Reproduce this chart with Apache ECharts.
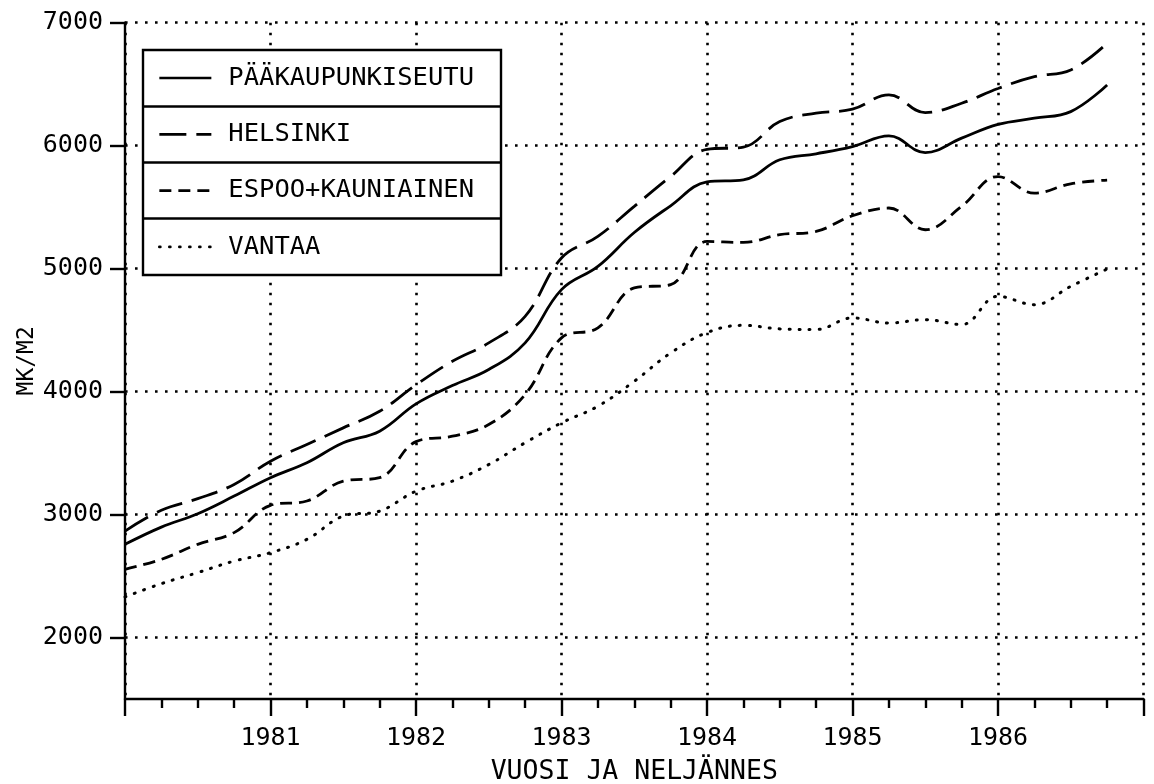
<!DOCTYPE html>
<html><head><meta charset="utf-8">
<script src="https://cdn.jsdelivr.net/npm/echarts@6/dist/echarts.min.js"></script>
<style>html,body{margin:0;padding:0;background:#fff}#c{width:1154px;height:784px}</style>
</head><body><div id="c"></div>
<script>
const quarters = ['1980Q1','1980Q2','1980Q3','1980Q4','1981Q1','1981Q2','1981Q3','1981Q4',
  '1982Q1','1982Q2','1982Q3','1982Q4','1983Q1','1983Q2','1983Q3','1983Q4',
  '1984Q1','1984Q2','1984Q3','1984Q4','1985Q1','1985Q2','1985Q3','1985Q4',
  '1986Q1','1986Q2','1986Q3','1986Q4'];
const seriesNames = ['PÄÄKAUPUNKISEUTU', 'HELSINKI', 'ESPOO+KAUNIAINEN', 'VANTAA'];
const paakaupunkiseutu = [2758, 2898, 3007, 3150, 3300, 3421, 3584, 3678, 3900, 4049, 4179, 4396, 4829, 5018, 5294, 5511, 5705, 5722, 5885, 5934, 5993, 6080, 5944, 6061, 6173, 6223, 6277, 6494];
const helsinki = [2865, 3035, 3129, 3245, 3434, 3570, 3705, 3840, 4055, 4247, 4396, 4612, 5086, 5262, 5506, 5749, 5970, 5988, 6196, 6264, 6297, 6413, 6269, 6345, 6465, 6561, 6616, 6833];
const espooKauniainen = [2555, 2636, 2758, 2853, 3075, 3110, 3272, 3300, 3593, 3637, 3732, 3976, 4437, 4518, 4843, 4870, 5221, 5213, 5276, 5303, 5430, 5493, 5316, 5506, 5749, 5614, 5690, 5720];
const vantaa = [2330, 2438, 2528, 2622, 2690, 2798, 2988, 3028, 3190, 3272, 3407, 3584, 3746, 3881, 4084, 4314, 4480, 4539, 4510, 4505, 4599, 4558, 4585, 4545, 4775, 4707, 4856, 4997];
const xTickLabels = ['1981', '1982', '1983', '1984', '1985', '1986'];
const yTickValues = [2000, 3000, 4000, 5000, 6000, 7000];
const xName = 'VUOSI JA NELJÄNNES';
const yName = 'MK/M2';

const FONT = 'DejaVu Sans Mono';
function qToX(q) { return parseInt(q.slice(0, 4), 10) + (parseInt(q.slice(5), 10) - 1) / 4; }
function pairs(vals) { return vals.map((v, i) => [qToX(quarters[i]), v]); }

const dashes = {
  'PÄÄKAUPUNKISEUTU': 'solid',
  'HELSINKI': [27, 10],
  'ESPOO+KAUNIAINEN': [12, 7],
  'VANTAA': [1, 9]
};
const allData = [paakaupunkiseutu, helsinki, espooKauniainen, vantaa];
const gridDots = { color: '#000', width: 2.6, type: [2.6, 7.4] };

const chart = echarts.init(document.getElementById('c'), null, { renderer: 'canvas' });
chart.setOption({
  animation: false,
  backgroundColor: '#fff',
  grid: { left: 125, right: 10.5, top: 22.7, bottom: 85, containLabel: false, outerBoundsMode: 'none' },
  xAxis: {
    type: 'value', min: 1980, max: 1987, interval: 1,
    name: xName, nameLocation: 'middle', nameGap: 60, nameMoveOverlap: false,
    nameTextStyle: { fontFamily: FONT, fontSize: 26.5, color: '#000' },
    axisLine: { show: true, lineStyle: { color: '#000', width: 2.4 } },
    axisTick: { show: true, inside: false, length: 17, lineStyle: { color: '#000', width: 2.4 } },
    minorTick: { show: true, splitNumber: 4, length: 9, lineStyle: { color: '#000', width: 2.4 } },
    axisLabel: {
      fontFamily: FONT, fontSize: 25, color: '#000', margin: 27,
      formatter: v => xTickLabels.indexOf(String(v)) >= 0 ? String(v) : ''
    },
    splitLine: { show: true, lineStyle: gridDots }
  },
  yAxis: {
    type: 'value', min: 1500, max: 7000,
    name: yName, nameLocation: 'middle', nameGap: 86, nameRotate: 90, nameMoveOverlap: false,
    nameTextStyle: { fontFamily: FONT, fontSize: 23, color: '#000' },
    axisLine: { show: true, lineStyle: { color: '#000', width: 2.4 } },
    axisTick: { show: true, inside: false, length: 15, customValues: yTickValues, lineStyle: { color: '#000', width: 2.4 } },
    axisLabel: { fontFamily: FONT, fontSize: 25, color: '#000', margin: 22, customValues: yTickValues, formatter: v => String(v) },
    splitLine: { show: true, lineStyle: gridDots }
  },
  legend: {
    orient: 'vertical', left: 158, top: 63, padding: 0,
    itemWidth: 52, itemHeight: 30, itemGap: 26.3,
    z: 10,
    data: seriesNames,
    itemStyle: { color: 'rgba(0,0,0,0)', borderWidth: 0, opacity: 0 },
    lineStyle: { width: 2.7 },
    textStyle: { fontFamily: FONT, fontSize: 25.5, color: '#000', lineHeight: 30, padding: [0, 0, 0, 12] },
    selectedMode: false
  },
  graphic: [
    { type: 'rect', z: 8, shape: { x: 143, y: 50, width: 358, height: 225 }, style: { fill: '#fff', stroke: '#000', lineWidth: 2.4 } },
    { type: 'line', z: 9, shape: { x1: 143, y1: 106.5, x2: 501, y2: 106.5 }, style: { stroke: '#000', lineWidth: 2.4 } },
    { type: 'line', z: 9, shape: { x1: 143, y1: 162.5, x2: 501, y2: 162.5 }, style: { stroke: '#000', lineWidth: 2.4 } },
    { type: 'line', z: 9, shape: { x1: 143, y1: 218.5, x2: 501, y2: 218.5 }, style: { stroke: '#000', lineWidth: 2.4 } }
  ],
  series: seriesNames.map((n, i) => ({
    name: n, type: 'line', data: pairs(allData[i]),
    smooth: 0.4, symbol: 'none', showSymbol: false,
    lineStyle: { color: '#000', width: i === 3 ? 3 : 2.8, type: dashes[n], cap: i === 3 ? 'round' : 'butt' },
    itemStyle: { color: '#000' }
  }))
});
</script></body></html>
